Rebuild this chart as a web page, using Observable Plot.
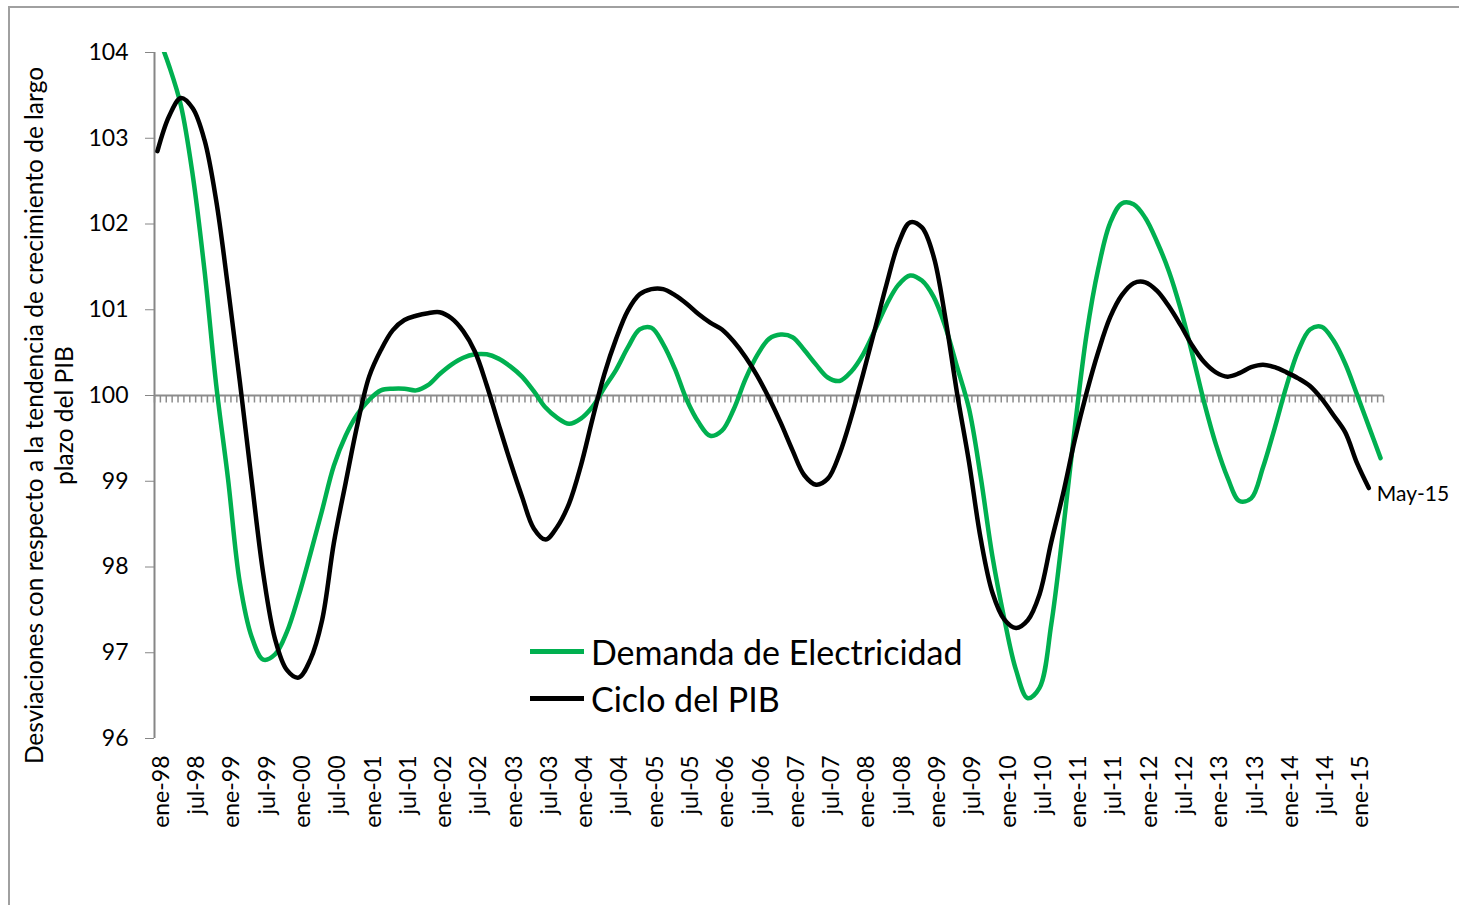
<!DOCTYPE html>
<html><head><meta charset="utf-8">
<script src="https://cdn.jsdelivr.net/npm/d3@7"></script>
<script src="https://cdn.jsdelivr.net/npm/@observablehq/plot@0.6"></script>
<style>
body{margin:0;background:#fff;font-family:Lato,sans-serif;}
#wrap{position:relative;width:1459px;height:905px;overflow:hidden;}
#chart{position:absolute;left:0;top:0;}
#border{position:absolute;left:8px;top:6px;width:1470px;height:920px;border:2px solid #a0a0a0;box-sizing:border-box;pointer-events:none;}
#legend{position:absolute;left:530px;top:628px;font-size:34px;color:#000;line-height:1;}
.item{display:flex;align-items:center;height:47px;white-space:nowrap;}
.sw{width:54px;height:5px;margin-right:7px;flex:none;}
</style></head>
<body><div id="wrap"><div id="chart"></div><div id="legend"></div><div id="border"></div></div>
<script>
// X tick labels (every 6 months)
const tickLabels = ["ene-98","jul-98","ene-99","jul-99","ene-00","jul-00","ene-01","jul-01","ene-02","jul-02","ene-03","jul-03","ene-04","jul-04","ene-05","jul-05","ene-06","jul-06","ene-07","jul-07","ene-08","jul-08","ene-09","jul-09","ene-10","jul-10","ene-11","jul-11","ene-12","jul-12","ene-13","jul-13","ene-14","jul-14","ene-15"];
const yTicks = [96, 97, 98, 99, 100, 101, 102, 103, 104];
const seriesNames = ["Demanda de Electricidad", "Ciclo del PIB"];
const seriesColors = ["#00b050", "#000000"];
const endLabel = "May-15";
const yTitle = "Desviaciones con respecto a la tendencia de crecimiento de largo\nplazo del PIB";

// Values every 2 months starting ene-98
const demanda = [
104.21, 103.84, 103.38, 102.57, 101.46, 100.12, 99.03, 97.82, 97.19, 96.92,
96.98, 97.24, 97.66, 98.15, 98.66, 99.18, 99.53, 99.78, 99.95, 100.06,
100.08, 100.08, 100.06, 100.12, 100.25, 100.36, 100.44, 100.48, 100.48, 100.43,
100.34, 100.22, 100.05, 99.86, 99.74, 99.67, 99.73, 99.87, 100.09, 100.30,
100.56, 100.77, 100.79, 100.60, 100.31, 99.95, 99.69, 99.53, 99.59, 99.84,
100.19, 100.47, 100.66, 100.71, 100.68, 100.53, 100.36, 100.21, 100.17, 100.28,
100.48, 100.76, 101.06, 101.29, 101.40, 101.34, 101.15, 100.80, 100.33, 99.85,
99.05, 98.12, 97.40, 96.80, 96.47, 96.59, 97.33, 98.42, 99.62, 100.71,
101.48, 102.01, 102.24, 102.23, 102.07, 101.79, 101.45, 101.01, 100.48, 99.92,
99.43, 99.04, 98.77, 98.80, 99.16, 99.62, 100.11, 100.52, 100.77, 100.80,
100.64, 100.37, 100.01, 99.64, 99.27
];
const pib = [
102.85, 103.26, 103.47, 103.35, 102.98, 102.27, 101.26, 100.17, 99.02, 97.92,
97.16, 96.80, 96.71, 96.92, 97.38, 98.28, 98.98, 99.66, 100.22, 100.53,
100.76, 100.88, 100.93, 100.96, 100.97, 100.90, 100.75, 100.51, 100.12, 99.67,
99.23, 98.82, 98.45, 98.32, 98.47, 98.74, 99.18, 99.73, 100.25, 100.66,
100.99, 101.18, 101.24, 101.24, 101.17, 101.07, 100.95, 100.85, 100.77, 100.63,
100.45, 100.23, 99.97, 99.68, 99.36, 99.07, 98.96, 99.03, 99.32, 99.75,
100.25, 100.77, 101.30, 101.77, 102.02, 101.96, 101.62, 100.90, 100.02, 99.23,
98.33, 97.70, 97.39, 97.29, 97.38, 97.68, 98.29, 98.85, 99.48, 100.03,
100.51, 100.91, 101.17, 101.31, 101.32, 101.22, 101.04, 100.82, 100.58, 100.39,
100.27, 100.22, 100.26, 100.33, 100.36, 100.33, 100.27, 100.20, 100.11, 99.96,
99.77, 99.57, 99.21, 98.92
];

const nMonths = 209; // ene-98 .. may-15
const demandaData = demanda.map((v, i) => ({m: i * 2, v}));
const pibData = pib.map((v, i) => ({m: i * 2, v}));
const tickMonths = tickLabels.map((_, i) => i * 6);
const boundaries = d3.range(-0.5, nMonths, 1);
const tickSymbol = {draw(ctx) { ctx.moveTo(0, 0); ctx.lineTo(0, 7); }};

const chart = Plot.plot({
  width: 1459, height: 905,
  marginLeft: 154, marginRight: 76, marginTop: 52, marginBottom: 167,
  style: {fontFamily: "Lato, sans-serif", background: "transparent", overflow: "visible", color: "#000"},
  x: {domain: [-0.5, nMonths - 0.5]},
  y: {domain: [96, 104]},
  marks: [
    Plot.ruleX([-0.5], {stroke: "#868686", strokeWidth: 2}),
    Plot.axisY({ticks: yTicks, tickSize: 9, tickPadding: 17, fontSize: 23, stroke: "#868686", fill: "#000", label: null, tickFormat: d => String(d)}),
    Plot.axisX({ticks: tickMonths, tickFormat: d => tickLabels[Math.round(d / 6)], tickRotate: -90, tickSize: 0, tickPadding: 17, dx: 4, fontSize: 23, fill: "#000", label: null}),
    Plot.ruleY([100], {stroke: "#8c8c8c", strokeWidth: 2}),
    Plot.dot(boundaries, {x: d => d, y: () => 100, symbol: tickSymbol, stroke: "#8c8c8c", strokeWidth: 1.5}),
    Plot.line(demandaData, {x: "m", y: "v", stroke: seriesColors[0], strokeWidth: 4.5, curve: "catmull-rom", clip: true}),
    Plot.line(pibData, {x: "m", y: "v", stroke: seriesColors[1], strokeWidth: 4.5, curve: "catmull-rom", clip: true}),
    Plot.text(pibData.slice(-1), {x: "m", y: "v", text: () => endLabel, textAnchor: "start", dx: 8, dy: 6, fontSize: 21}),
    Plot.text([yTitle], {frameAnchor: "left", text: d => d, rotate: -90, textAnchor: "middle", lineAnchor: "middle", dx: -106, dy: 20, fontSize: 24.5, lineHeight: 1.22})
  ]
});
document.getElementById("chart").appendChild(chart);

const legend = document.getElementById("legend");
seriesNames.forEach((name, i) => {
  const item = document.createElement("div");
  item.className = "item";
  const sw = document.createElement("span");
  sw.className = "sw";
  sw.style.background = seriesColors[i];
  const t = document.createElement("span");
  t.textContent = name;
  item.appendChild(sw); item.appendChild(t);
  legend.appendChild(item);
});
</script>
</body></html>
